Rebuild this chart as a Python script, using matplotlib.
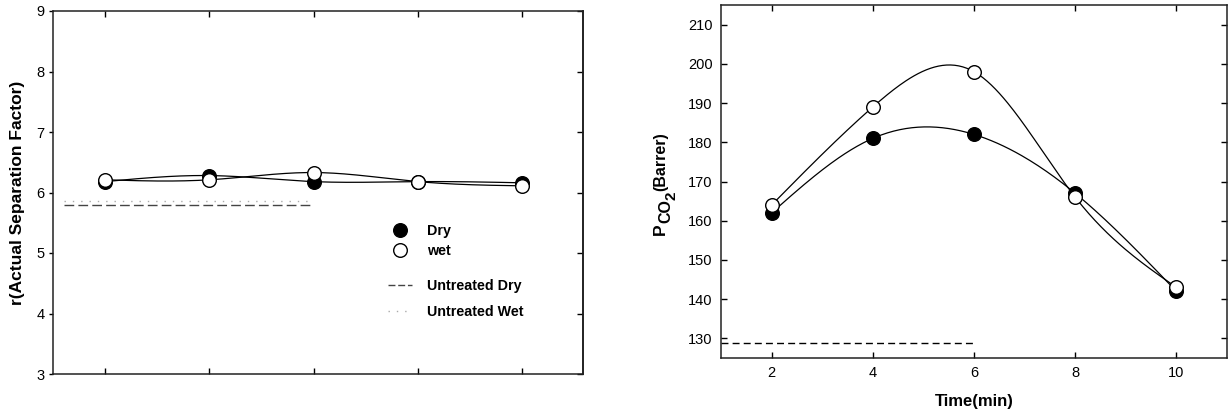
import numpy as np
import matplotlib
matplotlib.use("Agg")
import matplotlib.pyplot as plt
from matplotlib.lines import Line2D

plt.rcParams["font.family"] = ["Liberation Sans", "DejaVu Sans"]

# Treatment time (min)
time_min = [2, 4, 6, 8, 10]

# Separation factor
sep_dry = [6.18, 6.28, 6.18, 6.18, 6.16]
sep_wet = [6.21, 6.21, 6.33, 6.18, 6.11]
sep_untreated_dry = 5.79
sep_untreated_wet = 5.86

# CO2 permeability (Barrer)
pco2_dry = [162, 181, 182, 167, 142]
pco2_wet = [164, 189, 198, 166, 143]
pco2_untreated = 128.8


def natural_spline(x, y, n=200):
    # natural cubic spline through the measured points, for a smooth curve
    x = np.asarray(x, float)
    y = np.asarray(y, float)
    k = len(x)
    h = np.diff(x)
    A = np.zeros((k, k))
    b = np.zeros(k)
    A[0, 0] = A[-1, -1] = 1
    for i in range(1, k - 1):
        A[i, i - 1] = h[i - 1]
        A[i, i] = 2 * (h[i - 1] + h[i])
        A[i, i + 1] = h[i]
        b[i] = 6 * ((y[i + 1] - y[i]) / h[i] - (y[i] - y[i - 1]) / h[i - 1])
    m = np.linalg.solve(A, b)
    xs = np.linspace(x[0], x[-1], n)
    idx = np.clip(np.searchsorted(x, xs) - 1, 0, k - 2)
    x0, x1 = x[idx], x[idx + 1]
    hh = x1 - x0
    t0, t1 = x1 - xs, xs - x0
    ys = (m[idx] * t0**3 + m[idx + 1] * t1**3) / (6 * hh) \
        + (y[idx] / hh - m[idx] * hh / 6) * t0 \
        + (y[idx + 1] / hh - m[idx + 1] * hh / 6) * t1
    return xs, ys


W, H = 1228, 416
fig = plt.figure(figsize=(W / 100, H / 100), dpi=100)

ax1 = fig.add_axes([53 / W, (H - 374) / H, (583 - 53) / W, (374 - 11) / H])
ax2 = fig.add_axes([721 / W, (H - 358) / H, (1227 - 721) / W, (358 - 5) / H])

mk = dict(marker="o", markersize=9.8, markeredgewidth=1.0, linestyle="none",
          markeredgecolor="black")

for ax, dry, wet in ((ax1, sep_dry, sep_wet), (ax2, pco2_dry, pco2_wet)):
    xs, ys = natural_spline(time_min, dry)
    ax.plot(xs, ys, color="black", lw=0.9, zorder=2)
    xs, ys = natural_spline(time_min, wet)
    ax.plot(xs, ys, color="black", lw=0.9, zorder=2)
    ax.plot(time_min, dry, markerfacecolor="black", zorder=3, **mk)
    ax.plot(time_min, wet, markerfacecolor="white", zorder=4, **mk)
    for s in ax.spines.values():
        s.set_linewidth(1.1)
        s.set_color("#222222")

# left panel: separation factor
ax1.plot([1.22, 6], [sep_untreated_dry] * 2, color="#444444", lw=1.0,
         dashes=(7, 3))
ax1.plot([1.22, 6], [sep_untreated_wet] * 2, color="#aaaaaa", lw=1.0,
         dashes=(1, 5))
ax1.set_xlim(1, 11.16)
ax1.set_ylim(3, 9)
ax1.set_xticks(time_min)
ax1.set_yticks(range(3, 10))
ax1.tick_params(axis="x", direction="in", top=True, labelbottom=False,
                length=4, width=1)
ax1.tick_params(axis="y", direction="out", right=False, labelsize=10.5,
                length=3, width=1, pad=3)
sec = ax1.secondary_yaxis("right")
sec.set_yticks(range(3, 10))
sec.tick_params(direction="in", labelright=False, length=4, width=1)
sec.spines["right"].set_linewidth(1.1)
ax1.set_ylabel("r(Actual Separation Factor)", fontsize=12.5,
               fontweight="bold", labelpad=8)

leg1 = ax1.legend(
    handles=[Line2D([], [], markerfacecolor="black", **mk),
             Line2D([], [], markerfacecolor="white", **mk)],
    labels=["Dry", "wet"], loc="center left", bbox_to_anchor=(0.632, 0.366),
    frameon=False, borderpad=0, borderaxespad=0, handlelength=1.7,
    handletextpad=1.0, labelspacing=0.45, prop=dict(size=10.3, weight="bold"))
ax1.add_artist(leg1)
ax1.legend(
    handles=[Line2D([], [], color="#444444", lw=1.0, dashes=(5, 2)),
             Line2D([], [], color="#aaaaaa", lw=1.0, dashes=(1, 5))],
    labels=["Untreated Dry", "Untreated Wet"], loc="center left",
    bbox_to_anchor=(0.632, 0.207), frameon=False, borderpad=0,
    borderaxespad=0, handlelength=1.7, handletextpad=1.0, labelspacing=0.85,
    prop=dict(size=10.3, weight="bold"))

# right panel: CO2 permeability
ax2.plot([1, 6], [pco2_untreated] * 2, color="black", lw=1.0, dashes=(5, 3))
ax2.set_xlim(1, 11)
ax2.set_ylim(125, 215)
ax2.set_xticks(time_min)
ax2.set_yticks(range(130, 211, 10))
ax2.tick_params(direction="in", top=True, right=True, labelsize=10.5,
                length=4, width=1, pad=6)
ax2.set_xlabel("Time(min)", fontsize=12, fontweight="bold", labelpad=10)

# y label with stacked subscripts: P, CO, 2, (Barrer) written bottom to top,
# each piece starting where the previous one ends
renderer = fig.canvas.get_renderer()
y_start = 235
for txt, xb, size in (("P", 665, 12.5), ("CO", 670, 11.5),
                      ("2", 675, 11), ("(Barrer)", 665, 11.5)):
    t = fig.text(xb / W, 1 - y_start / H, txt, rotation=90,
                 rotation_mode="anchor", ha="left", va="baseline",
                 fontsize=size, fontweight="bold")
    bb = t.get_window_extent(renderer)
    y_start = H - bb.y1

fig.savefig("out.png", dpi=100)
